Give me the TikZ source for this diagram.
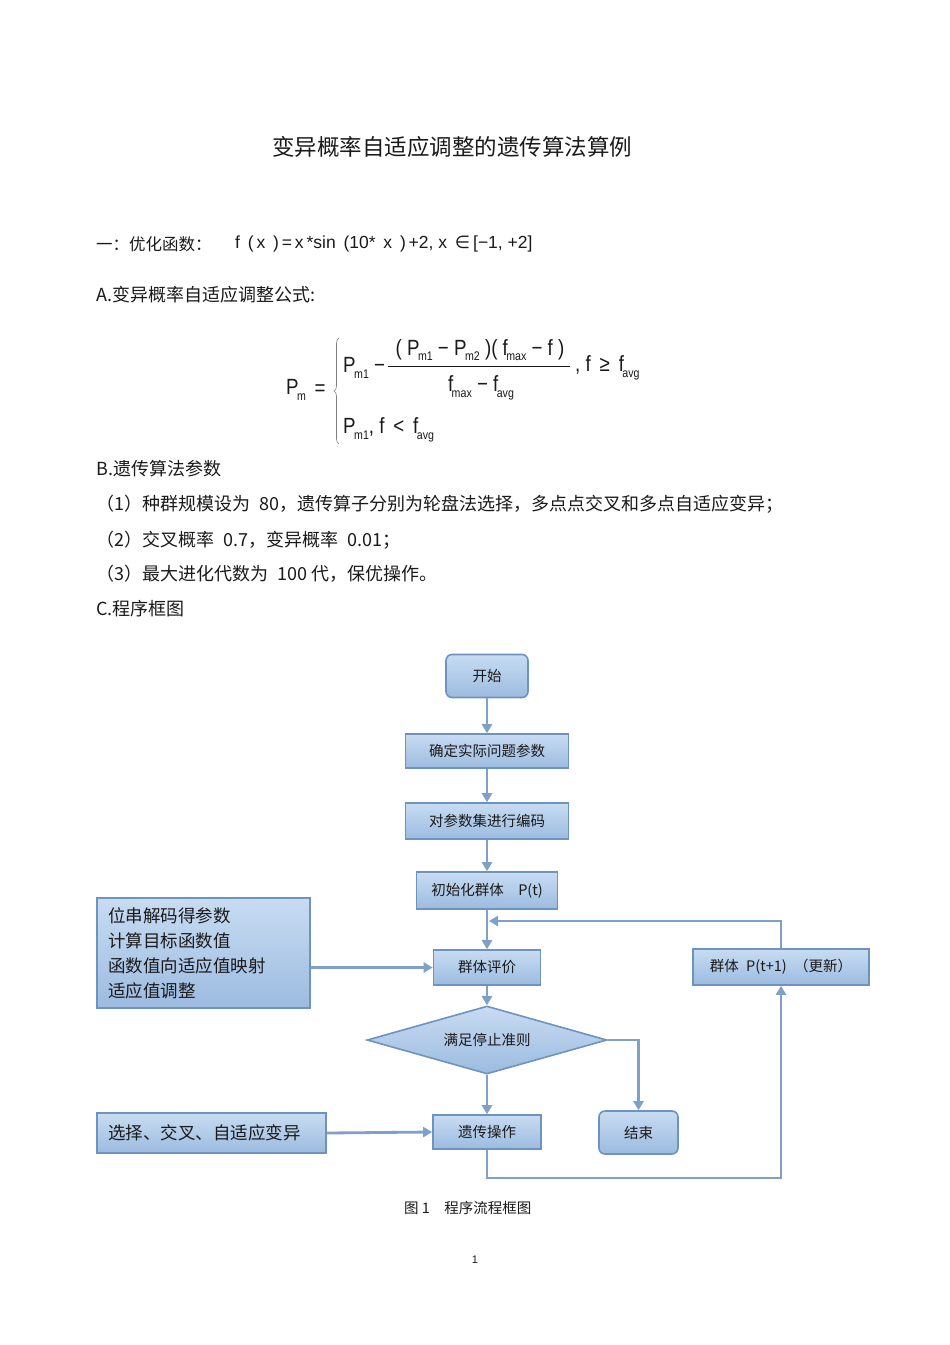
\documentclass[tikz,border=0pt]{standalone}
\usepackage{fontspec}
\setmainfont{Liberation Sans}
\newfontfamily\cjk{Noto Sans CJK SC}
\newfontfamily\narrowsans[FakeStretch=0.85]{Liberation Sans}
\newfontfamily\symbolfont{DejaVu Sans}
\usetikzlibrary{shapes.geometric,arrows.meta,decorations.pathreplacing}

\definecolor{boxline}{HTML}{6F93BF}
\definecolor{boxtop}{HTML}{C8DCF2}
\definecolor{boxbot}{HTML}{9CBBE0}
\definecolor{linkcol}{HTML}{7FA0C8}
\definecolor{inktext}{HTML}{1A1A1A}

\newcommand{\lo}[1]{\kern-1.5pt\raisebox{-0.5ex}{\fontsize{12.5}{12}\selectfont #1}}

\tikzstyle {textline} = [anchor=west, inner sep=0pt, text=inktext, font=\cjk\fontsize{18}{20}\selectfont]
\tikzstyle {formula} = [inner sep=0pt, text=inktext, font=\narrowsans\fontsize{22}{24}\selectfont]
\tikzstyle {flowblock} = [draw=boxline, line width=1.6pt, top color=boxtop, bottom color=boxbot, inner sep=0pt, text=inktext, font=\cjk\fontsize{14.5}{17}\selectfont]
\tikzstyle {roundblock} = [flowblock, rounded corners=6pt]
\tikzstyle {decisionblock} = [flowblock, diamond, aspect=3.5]
\tikzstyle {sideblock} = [flowblock, align=left, inner xsep=11pt, font=\cjk\fontsize{17.5}{25}\selectfont]
\tikzstyle {link} = [draw=linkcol, line width=2.8pt, -{Triangle[length=9pt,width=10pt]}]

\begin{document}
\begin{tikzpicture}[x=1pt, y=-1pt]
            \useasboundingbox [fill=white] (0,0) rectangle (950,1345);

            \node [inner sep=0pt, text=inktext, font=\cjk\fontsize{22.5}{24}\selectfont] (title) at (452,147) {变异概率自适应调整的遗传算法算例};
            \node [textline, font=\cjk\fontsize{16.5}{20}\selectfont] (fnlabel) at (96,244) {一：优化函数：};
            \node [textline, font=\fontsize{17.5}{20}\selectfont] (fn) at (235,244) {f \,(\,x\, )\,=\,x\,*sin \,(10*\, x\, )\,+2, x\, {\symbolfont ∈}\,[−1, +2]};
            \node [textline] (parta) at (96,295) {A.变异概率自适应调整公式:};

            \node [formula] (pm) at (296,390) {P\lo{m}};
            \node [formula] (eq) at (320,390) {=};
            \draw [gray, line width=0.6pt, decorate, decoration={brace, amplitude=5pt}] (339,444) -- (339,338);
            \node [formula, anchor=west] (caseone) at (343,368) {P\lo{m1} −};
            \node [formula] (numer) at (480,350) {( P\lo{m1} − P\lo{m2} )( f\lo{max} − f )};
            \draw [inktext, line width=0.7pt] (388,366) -- (570,366);
            \node [formula] (denom) at (481,388) {f\lo{max} − f\lo{avg}};
            \node [formula, anchor=west] (condone) at (575,368) {, f \,≥\, f\lo{avg}};
            \node [formula, anchor=west] (casetwo) at (343,430) {P\lo{m1}, f \,<\, f\lo{avg}};

            \node [textline] (partb) at (96,469) {B.遗传算法参数};
            \node [textline] (itemone) at (96,504) {（1）种群规模设为\enspace 80，遗传算子分别为轮盘法选择，多点点交叉和多点自适应变异；};
            \node [textline] (itemtwo) at (96,540) {（2）交叉概率\enspace 0.7，变异概率\enspace 0.01；};
            \node [textline] (itemthree) at (96,574) {（3）最大进化代数为\enspace 100 代，保优操作。};
            \node [textline] (partc) at (96,609) {C.程序框图};

            \node [roundblock, minimum width=82pt, minimum height=43pt] (start) at (487,676) {开始};
            \node [flowblock, minimum width=163pt, minimum height=34pt] (param) at (487,751) {确定实际问题参数};
            \node [flowblock, minimum width=163pt, minimum height=36pt] (encode) at (487,821) {对参数集进行编码};
            \node [flowblock, minimum width=141pt, minimum height=37pt] (init) at (487,890.5) {初始化群体\quad P(t)};
            \node [flowblock, minimum width=107pt, minimum height=35pt] (eval) at (487,967.5) {群体评价};
            \node [decisionblock, minimum width=240pt, minimum height=68pt] (stop) at (487,1040) {满足停止准则};
            \node [flowblock, minimum width=108pt, minimum height=34pt] (genop) at (487,1132) {遗传操作};
            \node [roundblock, minimum width=79pt, minimum height=43pt] (finish) at (638.5,1132.5) {结束};
            \node [flowblock, minimum width=176pt, minimum height=36pt] (update) at (781,967) {群体\enspace P(t+1)\enspace （更新）};
            \node [sideblock, text width=191pt, minimum height=110pt] (decode) at (203.5,953) {位串解码得参数\\计算目标函数值\\函数值向适应值映射\\适应值调整};
            \node [sideblock, text width=207pt, minimum height=40pt] (select) at (211.5,1133) {选择、交叉、自适应变异};
            \coordinate (loopin) at (489,921);
            \coordinate (loopout) at (781,1178);

            \draw [link] (start) -- (param);
            \draw [link] (param) -- (encode);
            \draw [link] (encode) -- (init);
            \draw [link] (init) -- (eval);
            \draw [link] (eval) -- (stop);
            \draw [link] (stop) -- (genop);
            \draw [link] (stop.east) -| (finish.north);
            \draw [link] (update.north) |- (loopin);
            \draw [link] (decode.east |- eval.west) -- (eval.west);
            \draw [link] (select.east) -- (genop.west);
            \draw [link] (genop.south) |- (loopout) -- (update.south);

            \node [inner sep=0pt, anchor=west, text=inktext, font=\cjk\fontsize{14.5}{16}\selectfont] (caption) at (404,1208) {图 1\quad 程序流程框图};
            \node [inner sep=0pt, text=inktext, font=\fontsize{11}{12}\selectfont] (pageno) at (475,1260) {1};
        \end{tikzpicture}
\end{document}
